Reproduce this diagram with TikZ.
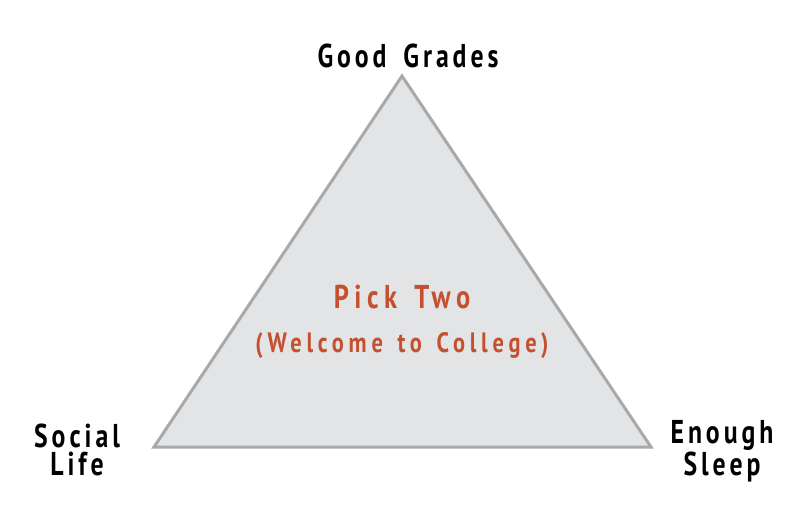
\documentclass[tikz,border=0pt]{standalone}
\usepackage{fontspec}
\newfontfamily\lbl{PT Sans}[BoldFeatures={FakeStretch=0.78,LetterSpace=12,WordSpace=1.6}]
\newfontfamily\midlbl{PT Sans}[BoldFeatures={FakeStretch=0.8,LetterSpace=17,WordSpace=1.4}]
\definecolor{trifill}{HTML}{E3E4E5}
\definecolor{tridraw}{HTML}{A8A9AB}
\definecolor{redtxt}{HTML}{C4502F}
\begin{document}
\begin{tikzpicture}[x=1pt,y=-1pt,
  corner/.style={inner sep=0pt,anchor=base,align=center,font=\lbl\bfseries\fontsize{33}{28}\selectfont,text=black},
  mid/.style={inner sep=0pt,anchor=base,text=redtxt,font=\midlbl\bfseries\fontsize{#1}{#1}\selectfont}]
\useasboundingbox (0,0) rectangle (800,504);
\fill[white] (0,0) rectangle (800,504);
\coordinate (apex) at (402,76);
\coordinate (bl) at (154,447);
\coordinate (br) at (651,447);
\draw[tridraw,fill=trifill,line width=3pt,line join=miter] (apex) -- (br) -- (bl) -- cycle;
\node[corner] (gg) at (408,67) {Good Grades};
\node[corner] (soc) at (77,475) {Social\\Life};
\node[corner] (eno) at (722,475) {Enough\\Sleep};
\node[mid=33] (pick) at (402,308) {Pick Two};
\node[mid=28] (wel) at (402,352) {(Welcome to College)};
\end{tikzpicture}
\end{document}
